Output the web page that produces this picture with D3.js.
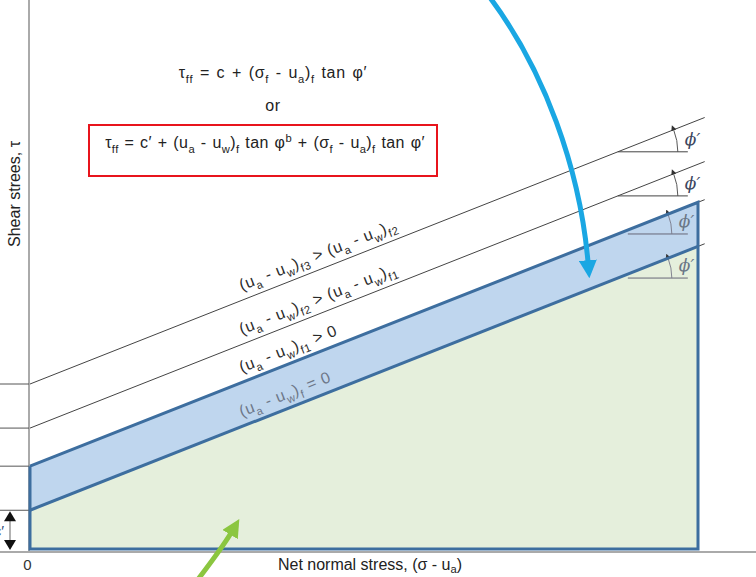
<!DOCTYPE html>
<html>
<head>
<meta charset="utf-8">
<script src="https://cdn.jsdelivr.net/npm/d3@7"></script>
<style>
  body { margin: 0; background: #fff; }
  svg { display: block; font-family: "Liberation Sans", Arial, sans-serif; }
</style>
</head>
<body>
<svg id="chart" width="756" height="577"></svg>
<script>
// Failure envelopes for an unsaturated soil (extended Mohr-Coulomb)
const envelopeIds = ["f3", "f2", "f1", "f0"];
const cohesion = [24.7, 18.1, 12.4, 5.8];          // τ at zero net normal stress
const strengthAtEnd = [64.2, 57.6, 51.9, 45.3];    // τ at net normal stress = 100
const envelopeLabels = [
  "(u_{a} - u_{w})_{f3} > (u_{a} - u_{w})_{f2}",
  "(u_{a} - u_{w})_{f2} > (u_{a} - u_{w})_{f1}",
  "(u_{a} - u_{w})_{f1} > 0",
  "(u_{a} - u_{w})_{f} = 0"
];
const xTicks = [0];
const xMax = 100;      // right edge of the shaded zones
const xOver = 101;     // envelopes run slightly past the shaded zones
const labelAt = 32.2;  // where the envelope captions start
const angleAt = 88;    // vertex of the φ′ angle marks

const equationTop = "τ_{ff} = c + (σ_{f} - u_{a})_{f} tan φ′";
const equationOr = "or";
const equationBox = "τ_{ff} = c′ + (u_{a} - u_{w})_{f} tan φ^{b} + (σ_{f} - u_{a})_{f} tan φ′";
const xTitle = "Net normal stress, (σ - u_{a})";
const yTitle = "Shear strees, τ";

const svg = d3.select("#chart");
const W = 756, H = 577;

// equal px per unit on both axes so the drawn angle is the true friction angle
const x = d3.scaleLinear().domain([0, xMax]).range([30, 698]);
const k = (x(xMax) - x(0)) / xMax;
const y = d3.scaleLinear().domain([0, 80]).range([549, 549 - 80 * k]);

const tau = (i, s) => cohesion[i] + (strengthAtEnd[i] - cohesion[i]) * s / xMax;
const slopeDeg = i => Math.atan2(y(strengthAtEnd[i]) - y(cohesion[i]), x(xMax) - x(0)) * 180 / Math.PI;

// text with _{sub} and ^{sup} pieces
function rich(sel, str, size, subShift = 0.3) {
  const re = /([_^])\{([^}]*)\}/g;
  let last = 0, m, shift = 0;
  const add = (txt, s) => {
    if (!txt) return;
    const t = sel.append("tspan").text(txt);
    const target = s === "_" ? subShift * size : s === "^" ? -0.38 * size : 0;
    if (target !== shift) { t.attr("dy", target - shift); shift = target; }
    if (s) t.attr("font-size", size * 0.7);
  };
  while ((m = re.exec(str)) !== null) {
    add(str.slice(last, m.index), null);
    add(m[2], m[1]);
    last = re.lastIndex;
  }
  add(str.slice(last), null);
  return sel;
}

const defs = svg.append("defs");
defs.append("clipPath").attr("id", "plotClip")
  .append("rect").attr("x", 30).attr("y", 0).attr("width", x(xMax) - 30).attr("height", 549);

function arrowMarker(id, color, w) {
  defs.append("marker").attr("id", id)
    .attr("viewBox", "0 0 10 10").attr("refX", 1).attr("refY", 5)
    .attr("markerWidth", w).attr("markerHeight", w)
    .attr("orient", "auto")
    .append("path").attr("d", "M0,0 L10,5 L0,10 Z").attr("fill", color);
}
arrowMarker("blueHead", "#1aa7e3", 3.6);
arrowMarker("greenHead", "#8bc640", 3.6);
arrowMarker("smallHead", "#333", 6);

// shaded zones
const blueFill = "#bfd6ee", greenFill = "#e5efdc", edge = "#3d6e9f";
const zoneGreen = [[0, 0], [0, cohesion[3]], [xMax, tau(3, xMax)], [xMax, 0]];
const zoneBlue = [[0, cohesion[3]], [0, cohesion[2]], [xMax, tau(2, xMax)], [xMax, tau(3, xMax)]];
const poly = d3.line().x(d => x(d[0])).y(d => y(d[1]));
svg.append("path").attr("d", poly(zoneGreen) + "Z").attr("fill", greenFill);
svg.append("path").attr("d", poly(zoneBlue) + "Z").attr("fill", blueFill);

// axes lines
svg.append("line").attr("x1", 29).attr("x2", 29).attr("y1", 0).attr("y2", 553)
  .attr("stroke", "#aaa").attr("stroke-width", 2);
svg.append("line").attr("x1", 0).attr("x2", W).attr("y1", 552).attr("y2", 552)
  .attr("stroke", "#aaa").attr("stroke-width", 2);

const xAxis = svg.append("g").attr("transform", "translate(0,552)")
  .call(d3.axisBottom(x).tickValues(xTicks).tickSize(0).tickPadding(7).tickFormat(d3.format("d")));
xAxis.select(".domain").remove();
xAxis.selectAll("text").attr("font-size", 15).attr("fill", "#333")
  .attr("font-family", "Liberation Sans, Arial, sans-serif").attr("dx", -3);

// short stubs marking each intercept on the τ axis
svg.selectAll(".stub").data(cohesion).join("line")
  .attr("x1", 0).attr("x2", 29)
  .attr("y1", d => y(d)).attr("y2", d => y(d))
  .attr("stroke", "#555").attr("stroke-width", 1);

// thin envelope lines
svg.selectAll(".env").data(envelopeIds).join("line")
  .attr("x1", x(0)).attr("y1", (d, i) => y(cohesion[i]))
  .attr("x2", x(xOver)).attr("y2", (d, i) => y(tau(i, xOver)))
  .attr("stroke", "#444").attr("stroke-width", 1);

// φ′ angle marks
envelopeIds.forEach((id, i) => {
  const inZone = i >= 2;
  const vx = x(angleAt), vy = y(tau(i, angleAt));
  const a = slopeDeg(i) * Math.PI / 180;
  const r = inZone ? 54 : 60;
  const g = svg.append("g").attr("clip-path", inZone ? "url(#plotClip)" : null);
  g.append("line").attr("x1", vx + (inZone ? 10 : 0)).attr("y1", vy).attr("x2", vx + 70).attr("y2", vy)
    .attr("stroke", inZone ? "#667" : "#444").attr("stroke-width", 1);
  const arc = d3.path();
  arc.moveTo(vx + r, vy);
  arc.arc(vx, vy, r, 0, a, true);
  g.append("path").attr("d", arc.toString()).attr("fill", "none")
    .attr("stroke", inZone ? "#778" : "#444").attr("stroke-width", 0.9)
    .attr("marker-end", "url(#smallHead)");
  g.append("text").attr("x", vx + r + 7).attr("y", vy - 7)
    .attr("font-size", 17).attr("font-style", "italic")
    .attr("font-family", "DejaVu Serif, serif")
    .attr("fill", inZone ? "#6a7686" : "#3c4660")
    .text("ϕ′");
});

// thick outline of the shaded zones
svg.append("path")
  .attr("d", poly([[0, cohesion[2]], [0, 0], [xMax, 0], [xMax, tau(2, xMax)], [0, cohesion[2]]]))
  .attr("fill", "none").attr("stroke", edge).attr("stroke-width", 3).attr("stroke-linejoin", "miter");
svg.append("line").attr("x1", x(0)).attr("y1", y(cohesion[3]))
  .attr("x2", x(xMax)).attr("y2", y(tau(3, xMax)))
  .attr("stroke", edge).attr("stroke-width", 3);

// envelope captions, set along each line
envelopeLabels.forEach((lab, i) => {
  const px = x(labelAt), py = y(tau(i, labelAt));
  const t = svg.append("text")
    .attr("transform", `translate(${px},${py}) rotate(${slopeDeg(i)})`)
    .attr("y", -9).attr("font-size", 16).attr("letter-spacing", 0.7)
    .attr("fill", i === 3 ? "#6d7788" : "#2a2a2a");
  rich(t, lab, 16);
});

// c′ marker on the τ axis
svg.append("line").attr("x1", 10).attr("x2", 10)
  .attr("y1", y(cohesion[3]) + 9).attr("y2", y(0) - 7)
  .attr("stroke", "#999").attr("stroke-width", 1.5);
[[y(cohesion[3]) + 1, -1], [y(0) + 1, 1]].forEach(([ty, dir]) => {
  svg.append("path")
    .attr("d", `M10,${ty} L4,${ty - dir * 10} L16,${ty - dir * 10} Z`)
    .attr("fill", "#111");
});
svg.append("text").attr("x", 4).attr("y", 536).attr("text-anchor", "end")
  .attr("font-size", 15).attr("fill", "#2a4a7a").text("c′");

// equations
const eqStyle = t => t.attr("text-anchor", "middle").attr("font-size", 16)
  .attr("letter-spacing", 0.7).attr("word-spacing", 1.5).attr("fill", "#222");
const eq1 = svg.append("text").attr("x", 273).attr("y", 78).call(eqStyle);
rich(eq1, equationTop, 16);
svg.append("text").attr("x", 273).attr("y", 111).call(eqStyle).text(equationOr);
svg.append("rect").attr("x", 89).attr("y", 125).attr("width", 348).attr("height", 51)
  .attr("fill", "none").attr("stroke", "#e8141c").attr("stroke-width", 2);
const eq2 = svg.append("text").attr("x", 265).attr("y", 148).call(eqStyle)
  .attr("letter-spacing", 0.4).attr("word-spacing", 1);
rich(eq2, equationBox, 16);

// axis titles
const xt = svg.append("text").attr("x", 370).attr("y", 569.5).attr("text-anchor", "middle")
  .attr("font-size", 16).attr("fill", "#222");
rich(xt, xTitle, 16, 0.2);
svg.append("text").attr("transform", "translate(20,194) rotate(-90)")
  .attr("text-anchor", "middle").attr("font-size", 16).attr("fill", "#222").text(yTitle);

// pointer arrows
svg.append("path").attr("d", "M488,-5 C545,70 580,170 588,262")
  .attr("fill", "none").attr("stroke", "#1aa7e3").attr("stroke-width", 5)
  .attr("marker-end", "url(#blueHead)");
svg.append("path").attr("d", "M196,582 Q222,548 231,533")
  .attr("fill", "none").attr("stroke", "#8bc640").attr("stroke-width", 5)
  .attr("marker-end", "url(#greenHead)");
</script>
</body>
</html>
